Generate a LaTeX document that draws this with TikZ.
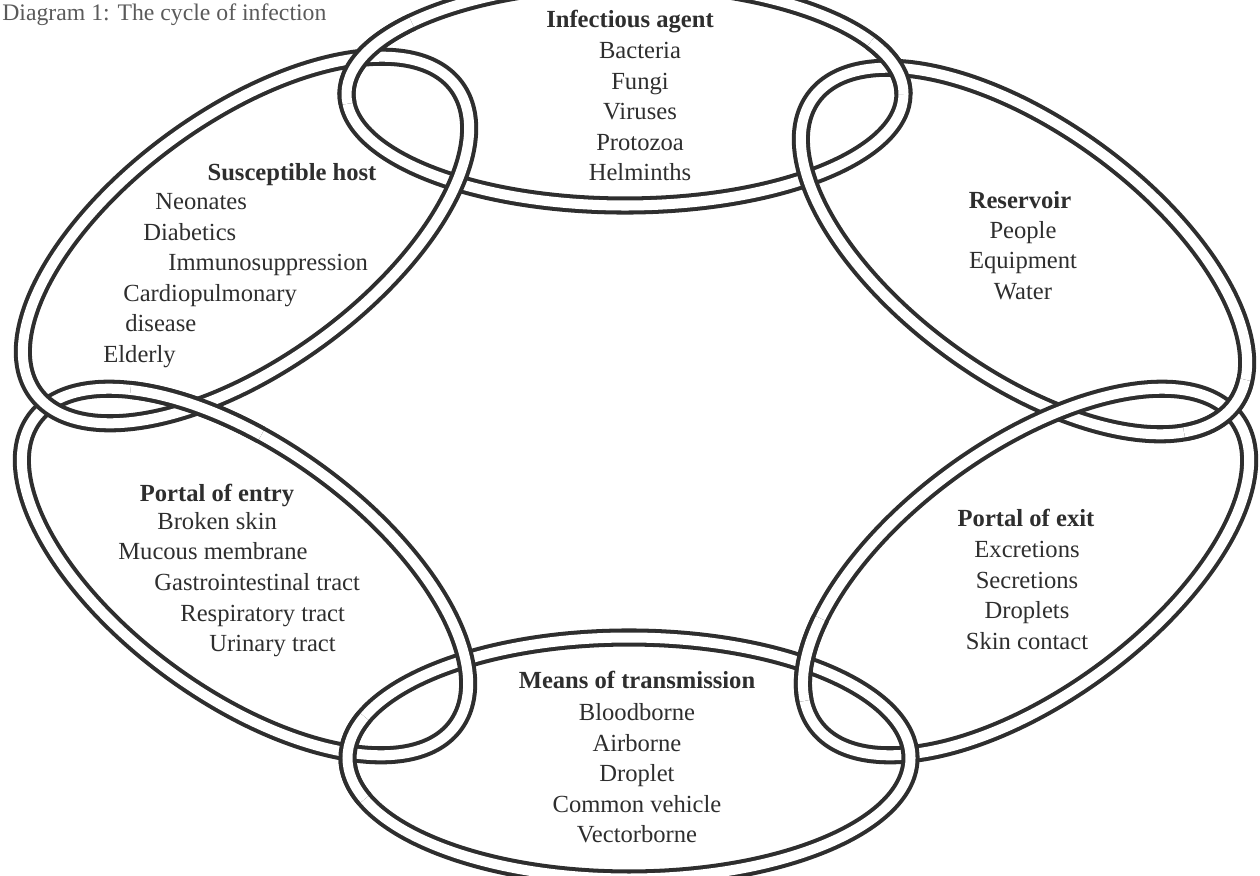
\documentclass[tikz,border=0pt]{standalone}
\usepackage{fontspec}
\setmainfont{Liberation Serif}
\usepackage{xcolor}
\definecolor{ink}{HTML}{2E2E2E}
\definecolor{caption}{HTML}{5A5A5A}

\begin{document}
\begin{tikzpicture}[x=0.02cm, y=0.02cm,
        rope/.style={draw=ink, line width=2.3pt, double=white, double distance=5.7pt},
        label/.style={text=ink, inner sep=0pt, font=\fontsize{14}{17.4}\selectfont},
        head/.style={label, anchor=base, font=\fontsize{14}{17.4}\selectfont\bfseries}]
        \useasboundingbox (0,0) rectangle (1260,-875);

        \node[anchor=base west, text=caption, inner sep=0pt, font=\fontsize{13.5}{16}\selectfont] (title) at (2,-21) {Diagram 1: The cycle of infection};

        \draw[rope] (625,-94) ellipse [x radius=278.5, y radius=111.5];
        \draw[rope, shift={(1024,-251)}, rotate=-36] (0,0) ellipse [x radius=260.5, y radius=124.5];
        \draw[rope, shift={(1026,-572)}, rotate=36] (0,0) ellipse [x radius=260.5, y radius=124.5];
        \draw[rope] (629,-758) ellipse [x radius=281.5, y radius=120.5];
        \draw[rope, shift={(245,-572)}, rotate=-36] (0,0) ellipse [x radius=260.5, y radius=124.5];
        \draw[rope, shift={(246,-240)}, rotate=36] (0,0) ellipse [x radius=260.5, y radius=124.5];

        \draw[rope, shift={(625,-94)}] (0:278.5 and 111.5) arc [start angle=0, end angle=28, x radius=278.5, y radius=111.5];
        \draw[rope, shift={(1024,-251)}, rotate=-36] (-25:260.5 and 124.5) arc [start angle=-25, end angle=12, x radius=260.5, y radius=124.5];
        \draw[rope, shift={(1026,-572)}, rotate=36] (138:260.5 and 124.5) arc [start angle=138, end angle=168, x radius=260.5, y radius=124.5];
        \draw[rope, shift={(629,-758)}] (160:281.5 and 120.5) arc [start angle=160, end angle=200, x radius=281.5, y radius=120.5];
        \draw[rope, shift={(245,-572)}, rotate=-36] (105:260.5 and 124.5) arc [start angle=105, end angle=140, x radius=260.5, y radius=124.5];
        \draw[rope, shift={(625,-94)}] (140:278.5 and 111.5) arc [start angle=140, end angle=185, x radius=278.5, y radius=111.5];

        \node[head] (agent) at (630,-28) {Infectious agent};
        \node[label, anchor=north, align=center] (agentlist) at (640,-42) {Bacteria\\Fungi\\Viruses\\Protozoa\\Helminths};

        \node[head] (reservoir) at (1020,-208) {Reservoir};
        \node[label, anchor=north, align=center] (reservoirlist) at (1023,-221) {People\\Equipment\\Water};

        \node[head] (exit) at (1026,-526) {Portal of exit};
        \node[label, anchor=north, align=center] (exitlist) at (1027,-541) {Excretions\\Secretions\\Droplets\\Skin contact};

        \node[head] (means) at (637,-688) {Means of transmission};
        \node[label, anchor=north, align=center] (meanslist) at (637,-703) {Bloodborne\\Airborne\\Droplet\\Common vehicle\\Vectorborne};

        \node[head] (host) at (292,-180) {Susceptible host};
        \node[label, anchor=base west] (host1) at (155,-209) {Neonates};
        \node[label, anchor=base west] (host2) at (143,-240) {Diabetics};
        \node[label, anchor=base west] (host3) at (168,-270) {Immunosuppression};
        \node[label, anchor=base west] (host4) at (123,-301) {Cardiopulmonary};
        \node[label, anchor=base west] (host5) at (125,-331) {disease};
        \node[label, anchor=base west] (host6) at (103,-362) {Elderly};

        \node[head] (entry) at (217,-501) {Portal of entry};
        \node[label, anchor=base west] (entry1) at (157,-529) {Broken skin};
        \node[label, anchor=base west] (entry2) at (118,-559) {Mucous membrane};
        \node[label, anchor=base west] (entry3) at (154,-590) {Gastrointestinal tract};
        \node[label, anchor=base west] (entry4) at (180,-621) {Respiratory tract};
        \node[label, anchor=base west] (entry5) at (209,-651) {Urinary tract};
    \end{tikzpicture}
\end{document}
